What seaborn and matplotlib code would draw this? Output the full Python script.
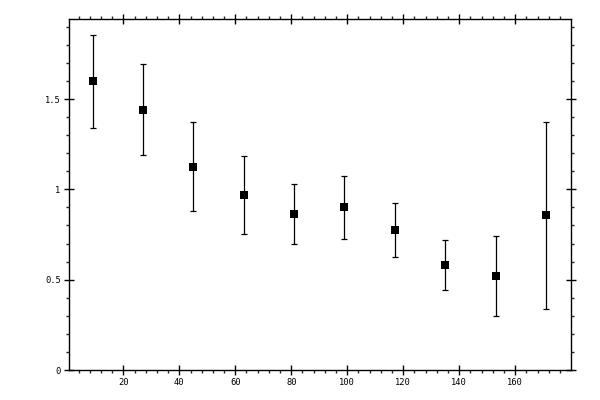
import numpy as np
import pandas as pd
import matplotlib
matplotlib.use('Agg')
import matplotlib.pyplot as plt
from matplotlib.ticker import MultipleLocator, FormatStrFormatter
import seaborn as sns

x_vals = [9, 27, 45, 63, 81, 99, 117, 135, 153, 171]
y_vals = [1.60, 1.437, 1.122, 0.967, 0.862, 0.900, 0.773, 0.579, 0.518, 0.856]
y_upper = [1.856, 1.692, 1.371, 1.183, 1.028, 1.072, 0.922, 0.718, 0.740, 1.371]
y_lower = [1.338, 1.188, 0.878, 0.751, 0.696, 0.723, 0.624, 0.441, 0.297, 0.336]

df = pd.DataFrame({'x': x_vals, 'y': y_vals})
err_lo = np.array(y_vals) - np.array(y_lower)
err_hi = np.array(y_upper) - np.array(y_vals)

sns.set_style('white')
plt.rcParams['font.family'] = ['DejaVu Sans Mono']

fig = plt.figure(figsize=(6, 4), dpi=100)
ax = fig.add_axes([69 / 600, 1 - 370 / 400, (570.7 - 69) / 600, (370 - 19) / 400])

ax.errorbar(df['x'], df['y'], yerr=[err_lo, err_hi], fmt='none',
            ecolor='black', elinewidth=0.9, capsize=2.5, capthick=0.9, zorder=2)
sns.scatterplot(data=df, x='x', y='y', marker='s', color='black', s=28,
                edgecolor='black', linewidth=0, ax=ax, zorder=3)

ax.set_xlim(0.6, 179.8)
ax.set_ylim(0, 1.943)
ax.set_xlabel('')
ax.set_ylabel('')

ax.xaxis.set_major_locator(MultipleLocator(20))
ax.xaxis.set_minor_locator(MultipleLocator(4))
ax.yaxis.set_major_locator(MultipleLocator(0.5))
ax.yaxis.set_minor_locator(MultipleLocator(0.1))
ax.yaxis.set_major_formatter(FormatStrFormatter('%g'))

ax.set_xticks([20, 40, 60, 80, 100, 120, 140, 160])

for s in ax.spines.values():
    s.set_visible(True)
    s.set_color('black')
    s.set_linewidth(1)

ax.tick_params(which='major', direction='inout', length=7, width=1, pad=2.5,
               labelsize=6.3, colors='black',
               top=True, right=True, bottom=True, left=True,
               labeltop=False, labelright=False)
ax.tick_params(which='minor', direction='out', length=2.5, width=1,
               top=True, right=True, bottom=True, left=True)

fig.savefig('out.png', dpi=100)
